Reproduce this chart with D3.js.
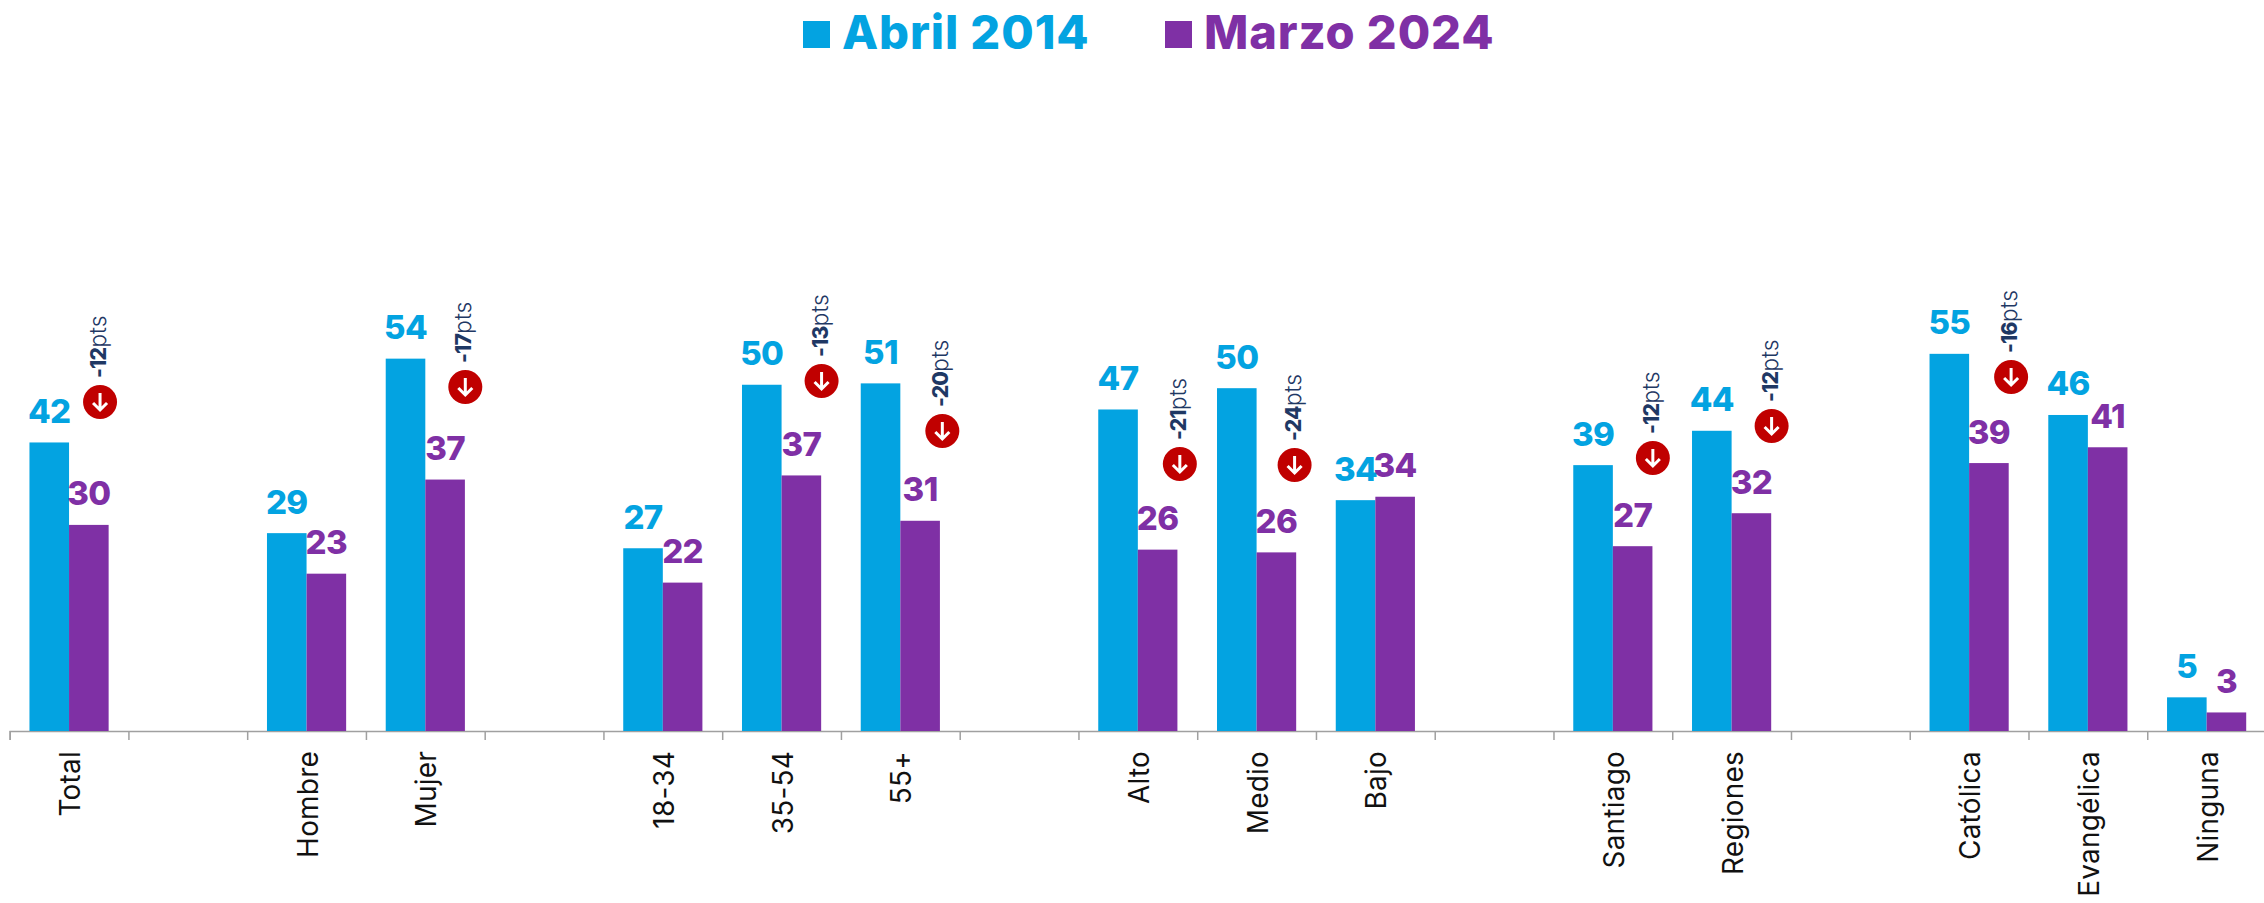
<!DOCTYPE html>
<html>
<head>
<meta charset="utf-8">
<script src="https://cdn.jsdelivr.net/npm/d3@7"></script>
<style>
  html, body { margin: 0; padding: 0; background: #fff; overflow: hidden; }
  text { font-family: Inter, "Open Sans", sans-serif; }
</style>
</head>
<body>
<script>
// "" = empty band between the groups
const categories = ["Total", "", "Hombre", "Mujer", "", "18-34", "35-54", "55+", "", "Alto", "Medio", "Bajo", "", "Santiago", "Regiones", "", "Católica", "Evangélica", "Ninguna"];
const abril2014 = [42, null, 28.8, 54.2, null, 26.6, 50.4, 50.6, null, 46.8, 49.9, 33.6, null, 38.7, 43.7, null, 54.9, 46, 4.9];
const marzo2024 = [30, null, 22.9, 36.6, null, 21.6, 37.2, 30.6, null, 26.4, 26, 34.1, null, 26.9, 31.7, null, 39, 41.3, 2.7];
const seriesNames = ["Abril 2014", "Marzo 2024"];

const deltaCategories = ["Total", "Mujer", "35-54", "55+", "Alto", "Medio", "Santiago", "Regiones", "Católica"];
const deltaValues = [-12, -17, -13, -20, -21, -24, -12, -12, -16];

// hand placed badges in the original, offsets from band centre / baseline
const badgeDx = [31, 40, 40, 42, 42, 38, 40, 40, 42];
const badgeDy = [-329, -344, -350, -300, -267, -266, -273, -305, -354];

const w = 2264;
const h = 903;
const baseline = 731;
const blue = "#03a3e1";
const purple = "#7f30a5";
const navy = "#1f3864";

const svg = d3.select("body").append("svg").attr("width", w).attr("height", h);

const xScale = d3.scaleBand().domain(d3.range(categories.length)).range([9.67, 2266]);
const edgeScale = d3.scaleLinear().domain([0, categories.length]).range([9.67, 2266]);
const inner = d3.scaleBand().domain([0, 1]).range([0, xScale.bandwidth()]).paddingOuter(0.5);
const yScale = d3.scaleLinear().domain([0, 55]).range([baseline, baseline - 55 * 6.87]);

// axis: ticks sit on the band edges
const xAxis = d3.axisBottom(edgeScale).tickValues(d3.range(categories.length + 1)).tickSize(9).tickFormat("");
const axisG = svg.append("g").attr("transform", "translate(0," + baseline + ")").call(xAxis);
axisG.select(".domain").attr("stroke", "#a0a0a0").attr("stroke-width", 1.5);
axisG.selectAll(".tick line").attr("stroke", "#a0a0a0").attr("stroke-width", 1.5);

categories.forEach((c, i) => {
  if (!c) return;
  const cx = xScale(i) + xScale.bandwidth() / 2;
  svg.append("text")
    .attr("transform", "translate(" + (cx + 11) + ",751) rotate(-90)")
    .attr("text-anchor", "end")
    .attr("font-size", 28)
    .attr("letter-spacing", 0.2)
    .attr("fill", "#111")
    .text(c);
});

// Creating bars
[abril2014, marzo2024].forEach((values, s) => {
  const color = s === 0 ? blue : purple;
  const rows = values.map((v, i) => ({ v, i })).filter((d) => d.v !== null);
  svg.selectAll(".bar" + s)
    .data(rows)
    .enter()
    .append("rect")
    .attr("class", "bar" + s)
    .attr("x", (d) => xScale(d.i) + inner(s))
    .attr("y", (d) => yScale(d.v))
    .attr("width", inner.bandwidth())
    .attr("height", (d) => baseline - yScale(d.v))
    .attr("fill", color);
  svg.selectAll(".lab" + s)
    .data(rows)
    .enter()
    .append("text")
    .attr("class", "lab" + s)
    .attr("x", (d) => xScale(d.i) + inner(s) + inner.bandwidth() / 2)
    .attr("y", (d) => yScale(d.v) - 19.5)
    .attr("text-anchor", "middle")
    .attr("font-size", 33)
    .attr("font-weight", 800)
    .attr("letter-spacing", -0.6)
    .attr("fill", color)
    .text((d) => d3.format(".0f")(d.v));
});

// legend
const legendX = [803, 1165];
const legendTextX = [842, 1204];
seriesNames.forEach((name, s) => {
  const color = s === 0 ? blue : purple;
  svg.append("rect").attr("x", legendX[s]).attr("y", 21).attr("width", 27).attr("height", 27).attr("fill", color);
  svg.append("text").attr("x", legendTextX[s]).attr("y", 49)
    .attr("font-size", 47).attr("font-weight", 800).attr("letter-spacing", 0.9).attr("fill", color).text(name);
});

// change badges
deltaCategories.forEach((c, k) => {
  const i = categories.indexOf(c);
  const g = svg.append("g")
    .attr("transform", "translate(" + (xScale(i) + xScale.bandwidth() / 2 + badgeDx[k]) + "," + (baseline + badgeDy[k]) + ")");
  g.append("circle").attr("r", 17).attr("fill", "#c00000");
  g.append("path").attr("d", "M0,-9V8M-7,1L0,8L7,1")
    .attr("fill", "none").attr("stroke", "#fff").attr("stroke-width", 3);
  const t = g.append("text")
    .attr("transform", "translate(6,-24) rotate(-90)")
    .attr("fill", navy);
  t.append("tspan").attr("font-size", 21).attr("font-weight", 800).attr("letter-spacing", -0.8).text(deltaValues[k]);
  t.append("tspan").attr("font-size", 23).attr("font-weight", 300).text("pts");
});
</script>
</body>
</html>
